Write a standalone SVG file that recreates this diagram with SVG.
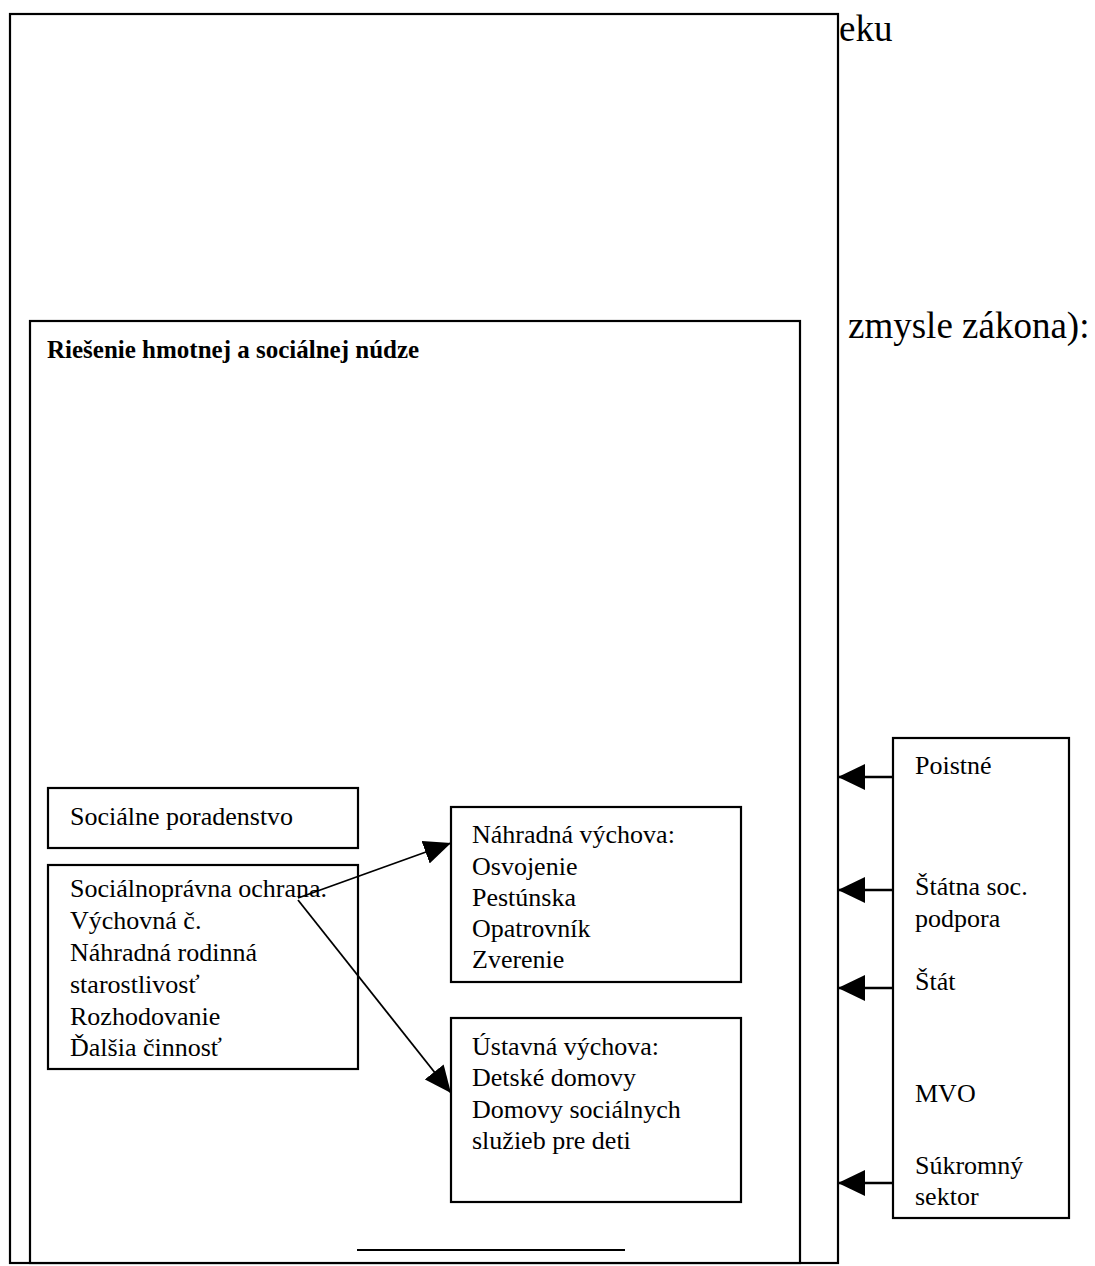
<svg xmlns="http://www.w3.org/2000/svg" width="1095" height="1266" viewBox="0 0 1095 1266">
<style>
.box{fill:#fff;stroke:#000;stroke-width:2.2}
.t{font-family:"Liberation Serif","Times New Roman",serif;font-size:26px;fill:#000}
.big{font-family:"Liberation Serif","Times New Roman",serif;font-size:37px;fill:#000}
.title{font-family:"Liberation Serif","Times New Roman",serif;font-size:25px;font-weight:bold;fill:#000}
.thin{stroke:#000;stroke-width:1.8;fill:none}
.thick{stroke:#000;stroke-width:2.6;fill:none}
</style>
<defs>
<marker id="ah" markerUnits="userSpaceOnUse" viewBox="0 0 27 24" refX="27" refY="12" markerWidth="27" markerHeight="24" orient="auto">
<path d="M0,0 L27,12 L0,24 Z" fill="#000"/>
</marker>
<marker id="ahr" markerUnits="userSpaceOnUse" viewBox="0 0 27 26" refX="27" refY="13" markerWidth="27" markerHeight="26" orient="auto">
<path d="M0,0 L27,13 L0,26 Z" fill="#000"/>
</marker>
</defs>
<g id="background-text">
<text class="big" x="839" y="41">eku</text>
<text class="big" x="848" y="338">zmysle zákona):</text>
</g>
<g id="outer-box">
<rect class="box" x="10" y="14" width="828" height="1249"/>
</g>
<g id="main-box">
<rect class="box" x="30" y="321" width="770" height="942"/>
<text class="title" x="47" y="358">Riešenie hmotnej a sociálnej núdze</text>
<line x1="357" y1="1250" x2="625" y2="1250" stroke="#000" stroke-width="2"/>
</g>
<g id="socialne-poradenstvo">
<rect class="box" x="48" y="788" width="310" height="60"/>
<text class="t" x="70" y="825">Sociálne poradenstvo</text>
</g>
<g id="socialnopravna-ochrana">
<rect class="box" x="48" y="865" width="310" height="204"/>
<text class="t" x="70" y="897">Sociálnoprávna ochrana.</text>
<text class="t" x="70" y="929">Výchovná č.</text>
<text class="t" x="70" y="961">Náhradná rodinná</text>
<text class="t" x="70" y="993">starostlivosť</text>
<text class="t" x="70" y="1025">Rozhodovanie</text>
<text class="t" x="70" y="1056">Ďalšia činnosť</text>
</g>
<g id="nahradna-vychova">
<rect class="box" x="451" y="807" width="290" height="175"/>
<text class="t" x="472" y="843">Náhradná výchova:</text>
<text class="t" x="472" y="875">Osvojenie</text>
<text class="t" x="472" y="906">Pestúnska</text>
<text class="t" x="472" y="937">Opatrovník</text>
<text class="t" x="472" y="968">Zverenie</text>
</g>
<g id="ustavna-vychova">
<rect class="box" x="451" y="1018" width="290" height="184"/>
<text class="t" x="472" y="1055">Ústavná výchova:</text>
<text class="t" x="472" y="1086">Detské domovy</text>
<text class="t" x="472" y="1118">Domovy sociálnych</text>
<text class="t" x="472" y="1149">služieb pre deti</text>
</g>
<g id="zdroje">
<rect class="box" x="893" y="738" width="176" height="480"/>
<text class="t" x="915" y="774">Poistné</text>
<text class="t" x="915" y="895">Štátna soc.</text>
<text class="t" x="915" y="927">podpora</text>
<text class="t" x="915" y="990">Štát</text>
<text class="t" x="915" y="1102">MVO</text>
<text class="t" x="915" y="1174">Súkromný</text>
<text class="t" x="915" y="1205">sektor</text>
</g>
<g id="connectors">
<line class="thin" x1="298" y1="898" x2="451" y2="843" marker-end="url(#ah)"/>
<line class="thin" x1="298" y1="900" x2="451" y2="1093" marker-end="url(#ah)"/>
<line class="thick" x1="893" y1="777" x2="838" y2="777" marker-end="url(#ahr)"/>
<line class="thick" x1="893" y1="890" x2="838" y2="890" marker-end="url(#ahr)"/>
<line class="thick" x1="893" y1="988" x2="838" y2="988" marker-end="url(#ahr)"/>
<line class="thick" x1="893" y1="1183" x2="838" y2="1183" marker-end="url(#ahr)"/>
</g>
</svg>
